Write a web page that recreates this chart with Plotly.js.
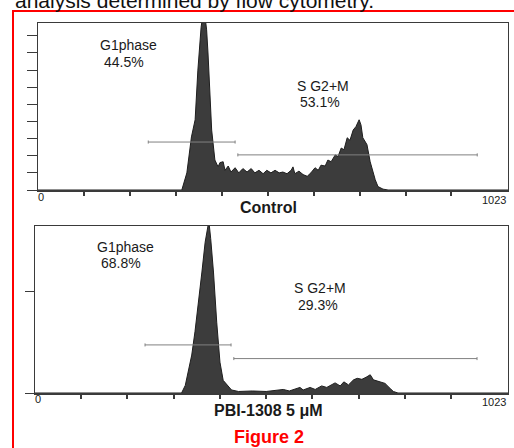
<!DOCTYPE html>
<html>
<head>
<meta charset="utf-8">
<script src="https://cdn.plot.ly/plotly-3.0.1.min.js"></script>
<style>html,body{margin:0;padding:0;background:#fff;}#chart{width:514px;height:448px;}</style>
</head>
<body>
<div id="chart"></div>
<script>
// ---- Data ----
// Control histogram: DNA content channel vs. cell count
const ctrlCh = [0, 300, 313, 324, 334, 342, 348, 355, 359, 363, 367, 370, 374, 378, 385, 392, 396, 403, 407, 414, 420, 429, 437, 446, 455, 464, 472, 481, 490, 498, 507, 516, 525, 533, 542, 551, 555, 559, 568, 577, 586, 594, 603, 610, 616, 625, 631, 638, 647, 653, 660, 666, 673, 679, 686, 692, 699, 703, 707, 712, 716, 723, 729, 734, 740, 751, 762, 1023];
const ctrlCount = [0, 0, 0, 20, 62, 82, 140, 190, 205, 205, 187, 160, 109, 70, 35, 27, 32, 33, 23, 28, 21, 26, 20, 25, 21, 25, 20, 23, 19, 23, 20, 23, 20, 21, 19, 23, 27, 19, 22, 18, 16, 20, 26, 23, 29, 28, 35, 33, 41, 39, 49, 47, 61, 58, 70, 74, 82, 76, 61, 56, 53, 33, 21, 12, 4, 1, 0, 0];
// PBI-1308 5 uM histogram
const drugCh = [0, 305, 317, 325, 332, 339, 346, 353, 361, 368, 373, 376, 380, 386, 393, 400, 407, 418, 425, 440, 470, 500, 520, 537, 550, 573, 580, 595, 606, 620, 631, 649, 660, 668, 678, 689, 697, 707, 716, 725, 732, 739, 750, 757, 768, 775, 785, 1023];
const drugCount = [0, 0, 0, 15, 42, 75, 121, 173, 239, 298, 328, 340, 305, 239, 140, 61, 25, 12, 6, 3, 4, 3, 5, 7, 4, 11, 6, 11, 7, 14, 11, 20, 14, 22, 16, 26, 29, 27, 31, 36, 26, 24, 22, 19, 9, 3, 0, 0];

// Gates: [start channel, end channel], level (count)
const ctrlG1Gate = [240, 429], ctrlG1Level = 56;
const ctrlSGate = [435, 956], ctrlSLevel = 41;
const drugG1Gate = [238, 424], drugG1Level = 95;
const drugSGate = [430, 956], drugSLevel = 68;

// Labels
const panelTitles = ["Control", "PBI-1308 5 \u03bcM"];
const g1Labels = ["G1phase<br> 44.5%", "G1phase<br> 68.8%"];
const ctrlG1Pct = "44.5%", ctrlSPct = "53.1%", drugG1Pct = "68.8%", drugSPct = "29.3%";
const xTickVals = [100, 200, 300, 400, 500, 600, 700, 800, 900];
const ctrlYTicks = [0, 20, 40, 60, 80, 100, 120, 140, 160, 180];
const drugYTicks = [0, 200];

// ---- Layout helpers ----
const W = 514, H = 448;
const px = x => x / W;
const py = y => 1 - y / H;
const FONT = "Liberation Sans, Arial, sans-serif";
const AX = "#3a3a3a";

function histTrace(x, y, xa, ya) {
  return {x: x, y: y, xaxis: xa, yaxis: ya, type: "scatter", mode: "lines",
    line: {color: "#1e1e1e", width: 1}, fill: "tozeroy", fillcolor: "#3c3c3c",
    hoverinfo: "skip", showlegend: false};
}

function gateShapes(gate, level, xr, yr, tickH) {
  const c = "#808080";
  return [
    {type: "line", xref: xr, yref: yr, x0: gate[0], x1: gate[1], y0: level, y1: level, line: {color: c, width: 1}},
    {type: "line", xref: xr, yref: yr, x0: gate[0], x1: gate[0], y0: level - tickH, y1: level + tickH, line: {color: c, width: 1}},
    {type: "line", xref: xr, yref: yr, x0: gate[1], x1: gate[1], y0: level - tickH, y1: level + tickH, line: {color: c, width: 1}}
  ];
}

function txt(text, x, y, size, opts) {
  return Object.assign({text: text, x: x, y: y, xref: "paper", yref: "paper", showarrow: false,
    xanchor: "center", yanchor: "middle", font: {family: FONT, size: size, color: "#1a1a1a"}}, opts || {});
}

const xaxisBase = {range: [0, 1023], showgrid: false, zeroline: false, showline: true, mirror: true,
  linecolor: AX, linewidth: 1.5, ticks: "outside", ticklen: 4, tickwidth: 2, tickcolor: AX,
  tickvals: xTickVals, showticklabels: false, fixedrange: true};

const data = [
  histTrace(ctrlCh, ctrlCount, "x", "y"),
  histTrace(drugCh, drugCount, "x2", "y2")
];

const layout = {
  width: W, height: H,
  margin: {l: 0, r: 0, t: 0, b: 0},
  paper_bgcolor: "#fff", plot_bgcolor: "#fff",
  showlegend: false,
  xaxis: Object.assign({}, xaxisBase, {domain: [px(38), px(508)], anchor: "y"}),
  yaxis: {domain: [py(190), py(23)], range: [0, 195], anchor: "x", showgrid: false, zeroline: false,
    showline: true, mirror: true, linecolor: AX, linewidth: 1.2, ticks: "outside", ticklen: 10,
    tickwidth: 1, tickcolor: AX, tickvals: ctrlYTicks, showticklabels: false, fixedrange: true},
  xaxis2: Object.assign({}, xaxisBase, {domain: [px(35), px(508)], anchor: "y2"}),
  yaxis2: {domain: [py(393), py(226)], range: [0, 330], anchor: "x2", showgrid: false, zeroline: false,
    showline: true, mirror: true, linecolor: AX, linewidth: 1.2, ticks: "outside", ticklen: 9,
    tickwidth: 1, tickcolor: AX, tickvals: drugYTicks, showticklabels: false, fixedrange: true},
  shapes: [].concat(
    gateShapes(ctrlG1Gate, ctrlG1Level, "x", "y", 1.8),
    gateShapes(ctrlSGate, ctrlSLevel, "x", "y", 1.8),
    gateShapes(drugG1Gate, drugG1Level, "x2", "y2", 3),
    gateShapes(drugSGate, drugSLevel, "x2", "y2", 3),
    [{type: "rect", xref: "paper", yref: "paper", x0: px(13), x1: 1.05, y0: -0.05, y1: py(11),
      line: {color: "#ff0000", width: 2}, fillcolor: "rgba(0,0,0,0)", layer: "above"}]
  ),
  annotations: [
    txt("analysis determined by flow cytometry.", px(13), py(0), 21, {xanchor: "left", font: {family: FONT, size: 21, color: "#111"}}),
    // top panel
    txt("G1phase", px(128.5), py(45), 14),
    txt(ctrlG1Pct, px(124), py(62), 14),
    txt("S G2+M", px(322.5), py(86), 14),
    txt(ctrlSPct, px(320), py(102), 14),
    txt("0", px(41), py(197), 11),
    txt("1023", px(508), py(200), 11, {xanchor: "right"}),
    txt("<b>" + panelTitles[0] + "</b>", px(268), py(207), 16),
    // bottom panel
    txt("G1phase", px(125.5), py(247), 14),
    txt(drugG1Pct, px(120.5), py(263), 14),
    txt("S G2+M", px(320), py(288), 14),
    txt(drugSPct, px(317.5), py(305), 14),
    txt("0", px(38), py(399), 11),
    txt("1023", px(508), py(402), 11, {xanchor: "right"}),
    txt("<b>" + panelTitles[1] + "</b>", px(268), py(410), 16),
    txt("<b>Figure 2</b>", px(268.5), py(437), 18, {font: {family: FONT, size: 18, color: "#ff0000"}})
  ]
};

Plotly.newPlot("chart", data, layout, {displayModeBar: false, staticPlot: true});
</script>
</body>
</html>
